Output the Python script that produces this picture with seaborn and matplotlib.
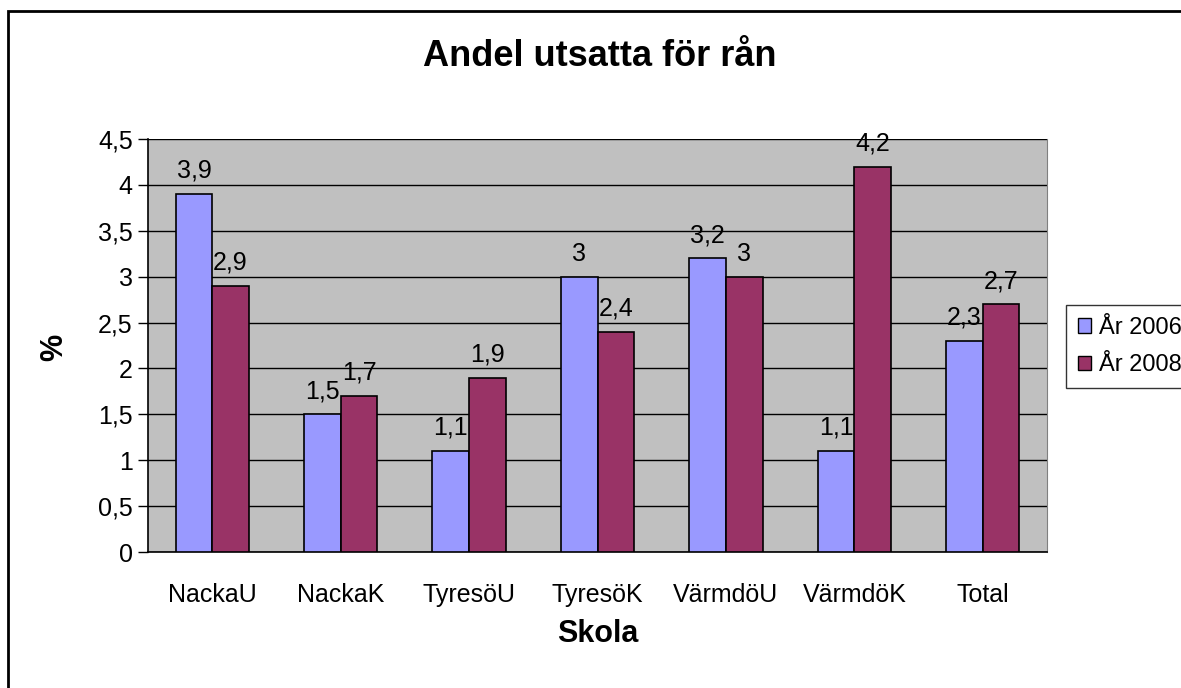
import matplotlib
matplotlib.use("Agg")
import matplotlib.pyplot as plt
import seaborn as sns
import pandas as pd
import numpy as np
from matplotlib.patches import Rectangle

schools = ["NackaU", "NackaK", "TyresöU", "TyresöK", "VärmdöU", "VärmdöK", "Total"]
years = ["År 2006", "År 2008"]
vals_2006 = [3.9, 1.5, 1.1, 3.0, 3.2, 1.1, 2.3]
vals_2008 = [2.9, 1.7, 1.9, 2.4, 3.0, 4.2, 2.7]
yticks = [0, 0.5, 1, 1.5, 2, 2.5, 3, 3.5, 4, 4.5]

df = pd.DataFrame({
    "Skola": schools * 2,
    "År": [years[0]] * len(schools) + [years[1]] * len(schools),
    "Andel": vals_2006 + vals_2008,
})

sns.set_style("white")
plt.rcParams["font.family"] = ["Liberation Sans", "DejaVu Sans"]
plt.rcParams["text.color"] = "black"
plt.rcParams["axes.labelcolor"] = "black"
plt.rcParams["xtick.color"] = "black"
plt.rcParams["ytick.color"] = "black"

fig = plt.figure(figsize=(11.81, 6.88), dpi=100)
W, H = 1181, 688
ax = fig.add_axes([148 / W, 1 - 552 / H, (1047 - 148) / W, (552 - 139) / H])
ax.set_facecolor("#C0C0C0")

palette = {"År 2006": "#9999FF", "År 2008": "#993366"}
sns.barplot(data=df, x="Skola", y="Andel", hue="År", palette=palette,
            width=0.57, edgecolor="black", linewidth=1.2, saturation=1,
            ax=ax, legend=False, zorder=3)

def fmt(v):
    return ("%g" % v).replace(".", ",")

for c in ax.containers:
    ax.bar_label(c, labels=[fmt(b.get_height()) for b in c], padding=8,
                 fontsize=18, color="black")

ax.set_ylim(0, 4.5)
ax.set_xlim(-0.5, len(schools) - 0.5)
ax.set_yticks(yticks)
ax.set_yticklabels([fmt(t) for t in yticks], fontsize=18)
ax.yaxis.grid(True, color="black", linewidth=1, zorder=0)
ax.set_axisbelow(True)

ax.set_xticks(range(len(schools)))
ax.set_xticklabels(schools, fontsize=18)
ax.set_xticks(np.arange(-0.5, len(schools), 1), minor=True)
ax.tick_params(axis="x", which="major", length=0, pad=22)
ax.tick_params(axis="x", which="minor", length=8, width=1, direction="out", color="black")
ax.tick_params(axis="y", length=7, width=1, direction="out", color="black", left=True, pad=4)

for s in ["left", "bottom"]:
    ax.spines[s].set_color("black")
    ax.spines[s].set_linewidth(1.2)
ax.spines["top"].set_visible(False)
ax.spines["right"].set_color("#808080")

ax.set_xlabel("Skola", fontsize=22, fontweight="bold", va="center")
ax.xaxis.set_label_coords(0.5, (552 - 634) / 413)
ax.set_ylabel("%", fontsize=22, fontweight="bold", va="center")
ax.yaxis.set_label_coords((54 - 148) / 899, (552 - 347) / 413)

fig.text(600 / W, 1 - 66 / H, "Andel utsatta för rån", ha="center", va="baseline",
         fontsize=26, fontweight="bold")

# outer chart frame
fig.patches.append(Rectangle((8 / W, -0.05), 1.2, 1 - 11 / H + 0.05,
                             transform=fig.transFigure, fill=False,
                             edgecolor="black", linewidth=2))

handles = [Rectangle((0, 0), 1, 1, facecolor=palette[y], edgecolor="black", linewidth=1)
           for y in years]
leg = fig.legend(handles, years, loc="upper left",
                 bbox_to_anchor=(1066 / W, 1 - 305 / H), fontsize=17,
                 frameon=True, fancybox=False, edgecolor="black",
                 handlelength=0.55, handleheight=0.55, handletextpad=0.35,
                 borderpad=0.5, labelspacing=0.65, borderaxespad=0)
leg.get_frame().set_linewidth(1)

fig.savefig("out.png", dpi=100)
